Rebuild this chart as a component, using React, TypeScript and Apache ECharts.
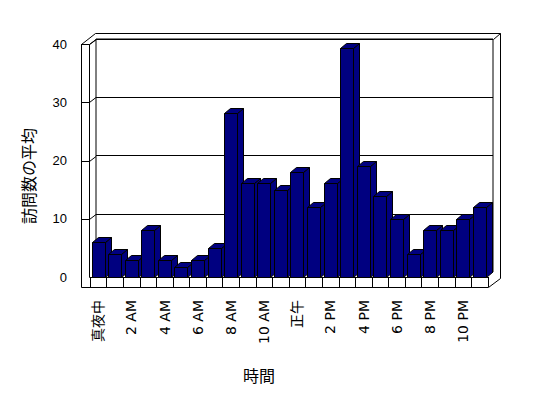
import React, { useEffect, useRef } from "react";
import * as echarts from "echarts";

const hours = [
  "真夜中", "1 AM", "2 AM", "3 AM", "4 AM", "5 AM", "6 AM", "7 AM", "8 AM", "9 AM", "10 AM", "11 AM",
  "正午", "1 PM", "2 PM", "3 PM", "4 PM", "5 PM", "6 PM", "7 PM", "8 PM", "9 PM", "10 PM", "11 PM",
];
const avgVisits = [
  6.0, 3.9, 2.9, 8.1, 2.9, 1.8, 2.9, 4.9, 28.1, 16.1, 16.1, 15.0,
  18.0, 12.0, 16.1, 39.3, 19.0, 13.9, 9.9, 3.9, 8.0, 8.0, 9.9, 12.0,
];
const yMin = 0;
const yMax = 40;
const yStep = 10;
const wallTickValues = [10, 20, 30, 40];
const yTitle = "訪問数の平均";
const xTitle = "時間";

const FONT = '"Noto Sans CJK JP", "Noto Sans", sans-serif';
const LABEL_FONT = '"DejaVu Sans", "Noto Sans CJK JP", sans-serif';
const NUM_FONT = '"Liberation Sans", Arial, sans-serif';
const NAVY = "#000080";
const DX = 6;
const DY = 5;

export default function App() {
  const ref = useRef<HTMLDivElement>(null);
  useEffect(() => {
    if (!ref.current) return;
    const chart = echarts.init(ref.current, null, { renderer: "svg" });
    const lineStyle = { stroke: "#000", lineWidth: 1, fill: null };
    chart.setOption({
      animation: false,
      backgroundColor: "#fff",
      grid: [
        { left: 90, right: 60, top: 44, bottom: 121, containLabel: false },
        {
          left: 96, right: 55, top: 39, bottom: 126, containLabel: false,
          show: true, borderColor: "#000", borderWidth: 1, backgroundColor: "transparent",
        },
      ],
      xAxis: [
        {
          type: "category",
          gridIndex: 0,
          data: hours,
          boundaryGap: true,
          axisLine: { show: true, lineStyle: { color: "#000", width: 1 } },
          axisTick: { show: true, interval: 0, length: 10, lineStyle: { color: "#000" } },
          axisLabel: {
            interval: 1,
            rotate: 90,
            margin: 23,
            color: "#000",
            fontSize: 14,
            fontFamily: LABEL_FONT,
          },
          splitLine: { show: false },
        },
        { type: "category", gridIndex: 1, data: hours, show: false },
      ],
      yAxis: [
        {
          type: "value",
          gridIndex: 0,
          min: yMin,
          max: yMax,
          interval: yStep,
          axisLine: { show: false },
          axisTick: { show: false },
          splitLine: { show: false },
          axisLabel: { color: "#000", fontSize: 13, fontFamily: NUM_FONT, margin: 23 },
        },
        {
          type: "value",
          gridIndex: 1,
          min: yMin,
          max: yMax,
          interval: yStep,
          axisLine: { show: false },
          axisTick: { show: false },
          axisLabel: { show: false },
          splitLine: { show: true, lineStyle: { color: "#000", width: 1 } },
        },
      ],
      series: [
        {
          type: "custom",
          xAxisIndex: 0,
          yAxisIndex: 0,
          encode: { x: 0, y: 1 },
          data: wallTickValues.map((v) => [0, v]),
          z: 3,
          renderItem: (params: any, api: any) => {
            const p = api.coord([0, api.value(1)]);
            const x = params.coordSys.x;
            const y = Math.round(p[1]) + 0.5;
            return {
              type: "polyline",
              shape: { points: [[x - 9, y], [x - 0.5, y], [x + 6, y - DY]] },
              style: lineStyle,
            };
          },
        },
        {
          type: "custom",
          xAxisIndex: 0,
          yAxisIndex: 0,
          encode: { x: 0, y: 1 },
          data: avgVisits.map((v, i) => [i, v]),
          z: 5,
          renderItem: (params: any, api: any) => {
            const i = api.value(0);
            const v = api.value(1);
            const base = api.coord([i, 0]);
            const top = api.coord([i, v]);
            const band = api.size([1, 0])[0];
            const L = Math.round(base[0] - band / 2 + 1.5) + 0.5;
            const w = 13;
            const yT = Math.round(top[1]) + 0.5;
            const yB = Math.round(base[1]) + 0.5;
            const style = { fill: NAVY, stroke: "#000", lineWidth: 1 };
            return {
              type: "group",
              children: [
                {
                  type: "polygon",
                  shape: { points: [[L + w, yT], [L + w + DX, yT - DY], [L + w + DX, yB - DY], [L + w, yB]] },
                  style,
                },
                {
                  type: "polygon",
                  shape: { points: [[L, yT], [L + DX, yT - DY], [L + w + DX, yT - DY], [L + w, yT]] },
                  style,
                },
                {
                  type: "rect",
                  shape: { x: L, y: yT, width: w, height: yB - yT },
                  style,
                },
              ],
            };
          },
        },
      ],
      graphic: [
        {
          type: "polyline",
          z: 10,
          shape: {
            points: [[81.5, 287.5], [81.5, 44.5], [95.5, 33.5], [500.5, 33.5], [500.5, 278.5], [488.5, 287.5], [81.5, 287.5]],
          },
          style: lineStyle,
        },
        {
          type: "polyline",
          z: 10,
          shape: { points: [[89.5, 277.5], [89.5, 44.5], [96.5, 39.5]] },
          style: lineStyle,
        },
        {
          type: "line",
          z: 10,
          shape: { x1: 493.5, y1: 39.5, x2: 500.5, y2: 33.5 },
          style: lineStyle,
        },
        {
          type: "text",
          z: 10,
          x: 28,
          y: 176,
          rotation: Math.PI / 2,
          style: {
            text: yTitle,
            fontSize: 16,
            fontFamily: FONT,
            fill: "#000",
            align: "center",
            verticalAlign: "middle",
          },
        },
        {
          type: "text",
          z: 10,
          x: 259,
          y: 375,
          style: {
            text: xTitle,
            fontSize: 16,
            fontFamily: FONT,
            fill: "#000",
            align: "center",
            verticalAlign: "middle",
          },
        },
      ],
    });
    return () => chart.dispose();
  }, []);
  return (
    <div
      ref={ref}
      style={{ position: "fixed", left: 0, top: 0, width: 548, height: 398, background: "#fff" }}
    />
  );
}
